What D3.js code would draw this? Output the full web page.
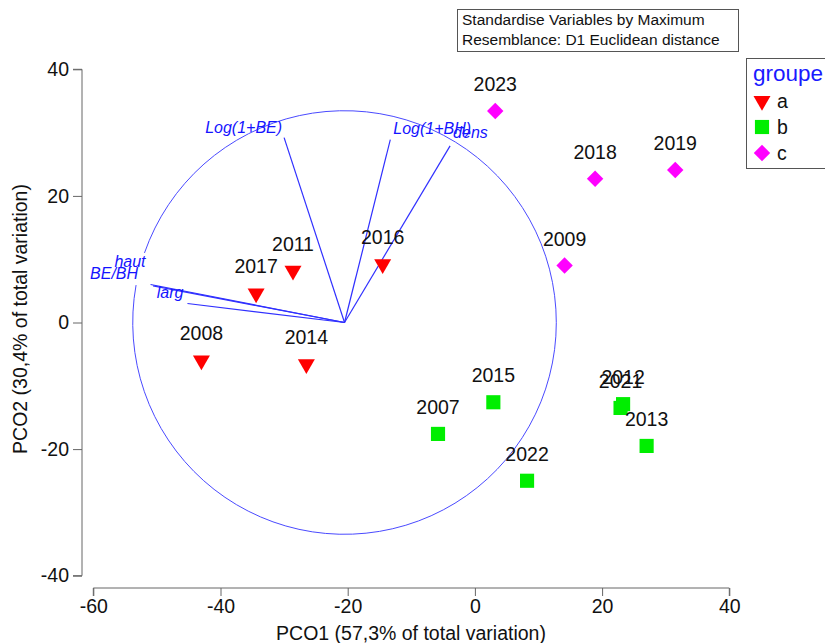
<!DOCTYPE html>
<html>
<head>
<meta charset="utf-8">
<script src="https://cdn.jsdelivr.net/npm/d3@7"></script>
<style>
  body { margin: 0; background: #fff; }
  text { font-family: "Liberation Sans", Arial, sans-serif; }
</style>
</head>
<body>
<svg id="chart" width="825" height="643"></svg>
<script>
// sample years, groups and PCO scores
const years = ["2008", "2017", "2011", "2014", "2016",
  "2007", "2015", "2022", "2012", "2021", "2013",
  "2023", "2018", "2019", "2009"];
const groups = ["a", "a", "a", "a", "a",
  "b", "b", "b", "b", "b", "b",
  "c", "c", "c", "c"];
const pco1 = [-43.0, -34.4, -28.6, -26.5, -14.5,
  -5.8, 2.9, 8.2, 23.3, 22.9, 27.0,
  3.2, 18.9, 31.5, 14.1];
const pco2 = [-6.0, 4.6, 8.2, -6.6, 9.2,
  -17.6, -12.6, -25.0, -12.9, -13.5, -19.5,
  33.4, 22.7, 24.1, 9.0];

// vector overlay (end points in PCO units)
const vecNames = ["Log(1+BE)", "Log(1+BH)", "dens", "haut", "BE/BH", "larg"];
const vecX = [-30.0, -13.3, -3.9, -51.0, -50.6, -45.2];
const vecY = [29.2, 28.9, 27.9, 6.0, 5.8, 3.0];
const vecOrigin = [-20.5, 0];
const circleR = 33.3;

const xTicks = [-60, -40, -20, 0, 20, 40];
const yTicks = [-40, -20, 0, 20, 40];

const data = years.map((y, i) => ({ year: y, group: groups[i], x: pco1[i], y: pco2[i] }));

const svg = d3.select("#chart");

const x = d3.scaleLinear().domain([-60, 40]).range([93.3, 729.3]);
const y = d3.scaleLinear().domain([-40, 40]).range([575.7, 69.3]);

const axisColor = "#666";
const fmt = (d) => String(d); // plain hyphen minus like the original

// y axis
const yAxis = svg.append("g")
  .attr("transform", "translate(82,0)")
  .call(d3.axisLeft(y).tickValues(yTicks).tickSize(9).tickPadding(4).tickFormat(fmt));
yAxis.select(".domain").attr("stroke", axisColor).attr("d", `M-9,${y(40)}H0V${y(-40)}H-9`);
yAxis.selectAll(".tick line").attr("stroke", axisColor);
yAxis.selectAll(".tick text").attr("font-size", 19.5).attr("fill", "#111")
  .style("font-family", "'Liberation Sans', Arial, sans-serif");

// x axis
const xAxis = svg.append("g")
  .attr("transform", "translate(0,588)")
  .call(d3.axisBottom(x).tickValues(xTicks).tickSize(8).tickPadding(3).tickFormat(fmt));
xAxis.select(".domain").attr("stroke", axisColor).attr("d", `M${x(-60)},8V0H${x(40)}V8`);
xAxis.selectAll(".tick line").attr("stroke", axisColor);
xAxis.selectAll(".tick text").attr("font-size", 19.5).attr("fill", "#111")
  .style("font-family", "'Liberation Sans', Arial, sans-serif");

// axis titles
svg.append("text")
  .attr("x", 411).attr("y", 640)
  .attr("text-anchor", "middle")
  .attr("font-size", 19.5).attr("fill", "#111")
  .text("PCO1 (57,3% of total variation)");

svg.append("text")
  .attr("transform", "translate(27,319) rotate(-90)")
  .attr("text-anchor", "middle")
  .attr("font-size", 19.5).attr("fill", "#111")
  .text("PCO2 (30,4% of total variation)");

// correlation circle, with the small gap near the left labels
const cx = x(vecOrigin[0]), cy = y(vecOrigin[1]);
const rPx = x(vecOrigin[0] + circleR) - cx;
const circ = d3.path();
circ.arc(cx, cy, rPx, -2.807, -2.964 + 2 * Math.PI, false);
svg.append("path")
  .attr("d", circ.toString())
  .attr("fill", "none")
  .attr("stroke", "#4a4aff")
  .attr("stroke-width", 1);

// vectors
svg.append("g")
  .selectAll("line")
  .data(vecNames)
  .join("line")
  .attr("x1", cx).attr("y1", cy)
  .attr("x2", (d, i) => x(vecX[i]))
  .attr("y2", (d, i) => y(vecY[i]))
  .attr("stroke", "#3030ff")
  .attr("stroke-width", 1.2);

// vector labels (offsets from the vector ends)
const vecLabelDx = [-2, 3, 3, -5, -15, -4];
const vecLabelDy = [-5, -6, -8, -18, -7, -6];
const vecLabelAnchor = ["end", "start", "start", "end", "end", "end"];
svg.append("g")
  .selectAll("text")
  .data(vecNames)
  .join("text")
  .attr("x", (d, i) => x(vecX[i]) + vecLabelDx[i])
  .attr("y", (d, i) => y(vecY[i]) + vecLabelDy[i])
  .attr("text-anchor", (d, i) => vecLabelAnchor[i])
  .attr("font-size", 16)
  .attr("font-style", "italic")
  .attr("fill", "#1414ff")
  .text(d => d);

// markers
const color = d3.scaleOrdinal().domain(["a", "b", "c"]).range(["#ff0000", "#00ee00", "#ff00ff"]);
const symType = d3.scaleOrdinal().domain(["a", "b", "c"]).range([d3.symbolTriangle, d3.symbolSquare, d3.symbolSquare]);
const symSize = { a: 125, b: 200, c: 135 };
const symRot = { a: 180, b: 0, c: 45 };

function symbolPath(g) {
  return d3.symbol().type(symType(g)).size(symSize[g])();
}

svg.append("g")
  .selectAll("path")
  .data(data)
  .join("path")
  .attr("d", d => symbolPath(d.group))
  .attr("transform", d => `translate(${x(d.x)},${y(d.y)}) rotate(${symRot[d.group]})`)
  .attr("fill", d => color(d.group));

svg.append("g")
  .selectAll("text")
  .data(data)
  .join("text")
  .attr("x", d => x(d.x))
  .attr("y", d => y(d.y) - 20)
  .attr("text-anchor", "middle")
  .attr("font-size", 19.5)
  .attr("fill", "#111")
  .text(d => d.year);

// info box
svg.append("rect")
  .attr("x", 457.5).attr("y", 9.5)
  .attr("width", 281).attr("height", 42)
  .attr("fill", "white").attr("stroke", "#555");
svg.append("text").attr("x", 462).attr("y", 25)
  .attr("font-size", 15.5).attr("fill", "#111")
  .text("Standardise Variables by Maximum");
svg.append("text").attr("x", 462).attr("y", 45)
  .attr("font-size", 15.5).attr("fill", "#111")
  .text("Resemblance: D1 Euclidean distance");

// legend
const legend = svg.append("g");
legend.append("rect")
  .attr("x", 746.5).attr("y", 58.5)
  .attr("width", 100).attr("height", 110)
  .attr("fill", "white").attr("stroke", "#555");
legend.append("text")
  .attr("x", 753).attr("y", 81)
  .attr("font-size", 22.5).attr("fill", "#1a1aff")
  .text("groupe");
const legItems = legend.selectAll("g.item")
  .data(["a", "b", "c"])
  .join("g")
  .attr("class", "item")
  .attr("transform", (d, i) => `translate(762,${101 + i * 26})`);
legItems.append("path")
  .attr("d", d => symbolPath(d))
  .attr("transform", d => `rotate(${symRot[d]})`)
  .attr("fill", d => color(d));
legItems.append("text")
  .attr("x", 15).attr("y", 7)
  .attr("font-size", 19.5).attr("fill", "#111")
  .text(d => d);
</script>
</body>
</html>
